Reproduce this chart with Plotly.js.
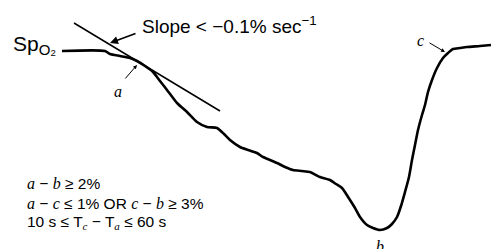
<!DOCTYPE html>
<html><head><meta charset="utf-8">
<script src="https://cdn.plot.ly/plotly-3.0.1.min.js"></script>
<style>html,body{margin:0;padding:0;background:#fff}#chart{width:493px;height:249px}</style>
</head><body><div id="chart"></div>
<script>
// time (s) and SpO2 (%)
var timeSec = [12.4,21.0,22.0,24.0,26.0,27.4,29.0,30.6,32.0,33.4,35.4,37.4,39.4,41.4,43.4,44.8,46.0,48.0,49.6,51.4,52.6,54.0,55.4,57.0,58.6,60.4,62.0,63.2,64.0,66.0,67.2,68.4,70.0,71.0,72.0,73.4,74.6,76.0,77.4,78.4,79.4,80.2,81.0,81.8,82.4,83.0,83.6,84.4,85.0,85.6,86.4,87.4,88.6,89.6,90.6,92.0,93.4,96.0,98.2];
var spo2 = [97.96,97.96,97.84,97.76,97.68,97.56,97.36,97.12,96.76,96.40,95.88,95.52,95.12,94.92,94.88,94.64,94.40,94.12,94.00,93.88,93.72,93.60,93.48,93.32,93.20,93.16,93.12,93.00,92.92,92.80,92.64,92.48,92.00,91.68,91.32,91.00,90.88,90.80,90.88,91.04,91.32,91.76,92.32,92.92,93.60,94.20,94.80,95.40,95.80,96.32,96.80,97.28,97.68,97.88,98.04,98.08,98.12,98.16,98.20];
// tangent (slope) line end points
var tangentTime = [14.8, 44.0];
var tangentSpo2 = [99.08, 95.56];
// labelled points
var pointA = {t: 27.4, s: 97.4};
var pointB = {t: 76.0, s: 90.8};
var pointC = {t: 89.0, s: 97.92};
var slopeArrowHead = {t: 22.0, s: 98.28};
var I = function(v, sz){ return '<i style="font-family:\'Liberation Serif\';font-size:' + sz + 'px">' + v + '</i>'; };
var criteria = [
  I('a',16) + ' − ' + I('b',16) + ' ≥ 2%',
  I('a',16) + ' − ' + I('c',16) + ' ≤ 1% OR ' + I('c',16) + ' − ' + I('b',16) + ' ≥ 3%',
  '10 s ≤ T<sub>' + I('c',11) + '</sub> − T<sub>' + I('a',11) + '</sub> ≤ 60 s'
];
var criteriaSpo2 = [92.68, 91.88, 91.1];

var serif = {family: 'Liberation Serif', size: 16, color: '#000'};
var sans = 'Liberation Sans, Arial, sans-serif';

var annotations = [
  {x: 28.0, y: 99.0, xref:'x', yref:'y', text: 'Slope &lt; −0.1% sec<sup>−1</sup>', showarrow:false, xanchor:'left', yanchor:'middle', font:{family:sans, size:19, color:'#000'}},
  {x: slopeArrowHead.t, y: slopeArrowHead.s, ax: 27.4, ay: 98.68, axref:'x', ayref:'y', xref:'x', yref:'y', text:'', showarrow:true, arrowhead:2, arrowsize:1, arrowwidth:1.6, arrowcolor:'#000'},
  {x: 2.2, y: 98.2, xref:'x', yref:'y', text: 'Sp<sub><span style="font-size:15px">O₂</span></sub>', showarrow:false, xanchor:'left', yanchor:'middle', font:{family:sans, size:21, color:'#000'}},
  {x: pointA.t, y: pointA.s, ax: 24.8, ay: 96.8, axref:'x', ayref:'y', xref:'x', yref:'y', text:'', showarrow:true, arrowhead:2, arrowsize:0.8, arrowwidth:1, arrowcolor:'#000'},
  {x: 23.6, y: 96.35, xref:'x', yref:'y', text:'<i>a</i>', showarrow:false, font:serif},
  {x: pointC.t, y: pointC.s, ax: 85.6, ay: 98.32, axref:'x', ayref:'y', xref:'x', yref:'y', text:'', showarrow:true, arrowhead:2, arrowsize:0.8, arrowwidth:1, arrowcolor:'#000'},
  {x: 84.0, y: 98.4, xref:'x', yref:'y', text:'<i>c</i>', showarrow:false, font:serif},
  {x: pointB.t, y: 90.15, xref:'x', yref:'y', text:'<i>b</i>', showarrow:false, font:serif}
];
criteria.forEach(function(txt, i){
  annotations.push({x: 5.0, y: criteriaSpo2[i], xref:'x', yref:'y', text: txt, showarrow:false, xanchor:'left', yanchor:'middle', font:{family:sans, size:15.5, color:'#000'}});
});

var traces = [
  {x: timeSec, y: spo2, type:'scatter', mode:'lines', line:{color:'#000', width:2.6, shape:'spline', smoothing:0.6}, hoverinfo:'skip'},
  {x: tangentTime, y: tangentSpo2, type:'scatter', mode:'lines', line:{color:'#000', width:1.5}, hoverinfo:'skip'}
];
var layout = {
  width:493, height:249, margin:{l:0,r:0,t:0,b:0},
  paper_bgcolor:'#fff', plot_bgcolor:'#fff', showlegend:false,
  xaxis:{range:[0,98.6], visible:false, fixedrange:true},
  yaxis:{range:[90.04,100], visible:false, fixedrange:true},
  annotations: annotations
};
Plotly.newPlot('chart', traces, layout, {displayModeBar:false, staticPlot:true});
</script></body></html>
